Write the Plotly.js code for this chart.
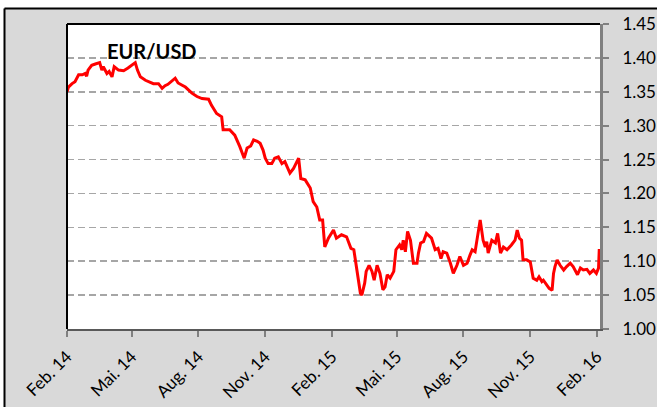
<!DOCTYPE html>
<html>
<head>
<meta charset="utf-8">
<script src="https://cdn.plot.ly/plotly-3.0.1.min.js"></script>
<style>
html,body{margin:0;padding:0;background:#fff;}
#chart{width:657px;height:407px;}
</style>
</head>
<body>
<div id="chart"></div>
<script>
const dates = [
"2014-02-01","2014-02-03","2014-02-08","2014-02-12","2014-02-17","2014-02-22","2014-02-26","2014-02-28",
"2014-03-02","2014-03-07","2014-03-12","2014-03-16","2014-03-18","2014-03-21","2014-03-23","2014-03-28","2014-03-31",
"2014-04-04","2014-04-07","2014-04-13","2014-04-20","2014-04-26","2014-05-01","2014-05-06","2014-05-09","2014-05-13",
"2014-05-20","2014-05-24","2014-05-31","2014-06-07","2014-06-12","2014-06-16","2014-06-20","2014-06-30",
"2014-07-04","2014-07-09","2014-07-14","2014-07-23","2014-07-30","2014-08-06","2014-08-15","2014-08-19","2014-08-26",
"2014-09-02","2014-09-04","2014-09-13","2014-09-20","2014-09-27","2014-10-03","2014-10-07","2014-10-12","2014-10-16",
"2014-10-21","2014-10-25","2014-10-29","2014-11-01","2014-11-05","2014-11-10","2014-11-14","2014-11-19","2014-11-24",
"2014-11-28","2014-12-05","2014-12-10","2014-12-17","2014-12-20","2014-12-26","2015-01-02","2015-01-06","2015-01-11",
"2015-01-15","2015-01-19","2015-01-22","2015-01-27","2015-02-03","2015-02-07","2015-02-14","2015-02-21","2015-02-27",
"2015-03-03","2015-03-07","2015-03-12","2015-03-14","2015-03-18","2015-03-20","2015-03-24","2015-03-28","2015-03-31",
"2015-04-04","2015-04-08","2015-04-12","2015-04-15","2015-04-18","2015-04-22","2015-04-27","2015-04-30","2015-05-05",
"2015-05-08","2015-05-10","2015-05-13","2015-05-16","2015-05-20","2015-05-24","2015-05-29","2015-05-31","2015-06-03",
"2015-06-07","2015-06-11","2015-06-18","2015-06-23","2015-06-27","2015-07-01","2015-07-04","2015-07-09","2015-07-14",
"2015-07-18","2015-07-23","2015-07-27","2015-08-01","2015-08-06","2015-08-10","2015-08-13","2015-08-17","2015-08-21",
"2015-08-24","2015-08-28","2015-08-31","2015-09-02","2015-09-04","2015-09-09","2015-09-14","2015-09-17","2015-09-21",
"2015-09-25","2015-09-30","2015-10-06","2015-10-11","2015-10-14","2015-10-17","2015-10-20","2015-10-22","2015-10-27",
"2015-11-01","2015-11-05","2015-11-10","2015-11-13","2015-11-17","2015-11-19","2015-11-23","2015-11-27","2015-12-01",
"2015-12-03","2015-12-05","2015-12-08","2015-12-12","2015-12-17","2015-12-21","2015-12-26","2015-12-30","2016-01-05",
"2016-01-09","2016-01-13","2016-01-18","2016-01-22","2016-01-27","2016-01-31","2016-02-03","2016-02-04"
];
const eurusd = [
1.350,1.357,1.362,1.365,1.375,1.375,1.377,1.373,
1.382,1.389,1.391,1.393,1.393,1.382,1.387,1.377,1.380,
1.372,1.387,1.382,1.381,1.385,1.389,1.393,1.382,1.372,
1.367,1.365,1.362,1.362,1.355,1.359,1.361,1.370,
1.363,1.360,1.357,1.348,1.343,1.340,1.339,1.330,1.318,
1.313,1.294,1.294,1.286,1.269,1.252,1.267,1.270,1.279,
1.277,1.274,1.264,1.252,1.244,1.244,1.252,1.254,1.244,
1.247,1.230,1.237,1.252,1.222,1.220,1.208,1.188,1.180,
1.161,1.161,1.121,1.134,1.146,1.134,1.139,1.136,1.119,
1.117,1.085,1.053,1.050,1.068,1.085,1.094,1.085,1.072,
1.094,1.082,1.058,1.062,1.080,1.075,1.085,1.117,1.124,
1.117,1.131,1.114,1.144,1.131,1.097,1.097,1.112,1.127,
1.129,1.141,1.134,1.117,1.119,1.104,1.114,1.112,1.097,
1.082,1.094,1.107,1.094,1.097,1.109,1.117,1.114,1.139,
1.161,1.131,1.121,1.129,1.112,1.131,1.127,1.141,1.112,
1.121,1.117,1.124,1.131,1.146,1.134,1.131,1.102,1.102,
1.099,1.075,1.072,1.077,1.070,1.072,1.065,1.060,1.057,
1.082,1.092,1.102,1.094,1.087,1.092,1.097,1.092,1.080,
1.090,1.087,1.088,1.082,1.087,1.082,1.090,1.118
];
const tickDates = ["2014-02-01","2014-05-01","2014-08-01","2014-11-01","2015-02-01","2015-05-01","2015-08-01","2015-11-01","2016-02-01"];
const tickLabels = ["Feb. 14","Mai. 14","Aug. 14","Nov. 14","Feb. 15","Mai. 15","Aug. 15","Nov. 15","Feb. 16"];
const yTicks = [1.00,1.05,1.10,1.15,1.20,1.25,1.30,1.35,1.40,1.45];
const chartTitle = "EUR/USD";

const W = 657, H = 407;
const M = {l:67, r:57, t:24, b:78};
const pw = W - M.l - M.r, ph = H - M.t - M.b;
const fx = px => (px - M.l) / pw;
const fy = py => (H - M.b - py) / ph;

const font = {family:"Lato, 'Open Sans', sans-serif", size:17, color:"#000"};

const trace = {
  x: dates, y: eurusd, type:"scatter", mode:"lines",
  line:{color:"#ff0000", width:3}, hoverinfo:"skip"
};

const layout = {
  width:W, height:H,
  margin:{l:M.l, r:M.r, t:M.t, b:M.b, pad:0},
  paper_bgcolor:"#d9d9d9", plot_bgcolor:"#ffffff",
  showlegend:false,
  font:font,
  xaxis:{
    type:"date", range:["2014-02-01","2016-02-05"],
    tickmode:"array", tickvals:tickDates, ticktext:tickLabels,
    tickangle:-45, ticks:"outside", ticklen:6, tickwidth:2, tickcolor:"#808080",
    showline:true, linecolor:"#595959", linewidth:2,
    showgrid:false, zeroline:false, tickfont:font, ticklabelstandoff:3, fixedrange:true
  },
  yaxis:{
    side:"right", range:[1.0,1.45],
    tickmode:"array", tickvals:yTicks, tickformat:".2f",
    ticks:"outside", ticklen:6, tickwidth:2, tickcolor:"#808080",
    showline:true, linecolor:"#808080", linewidth:3,
    showgrid:true, gridcolor:"#a6a6a6", gridwidth:1.5, griddash:"7px,4px",
    zeroline:false, tickfont:font, ticklabelstandoff:10, fixedrange:true
  },
  shapes:[
    {type:"line", xref:"paper", yref:"paper", x0:0, x1:1, y0:1, y1:1, line:{color:"#000", width:2}, layer:"above"},
    {type:"line", xref:"paper", yref:"paper", x0:0, x1:0, y0:0, y1:1, line:{color:"#000", width:2}, layer:"above"},
    {type:"rect", xref:"paper", yref:"paper", x0:fx(-20), x1:fx(W+20), y0:fy(8), y1:fy(-20), fillcolor:"#fff", line:{width:0}, layer:"above"},
    {type:"rect", xref:"paper", yref:"paper", x0:fx(-20), x1:fx(4), y0:fy(H+20), y1:fy(-20), fillcolor:"#fff", line:{width:0}, layer:"above"},
    {type:"line", xref:"paper", yref:"paper", x0:fx(4.5), x1:fx(W+20), y0:fy(8.5), y1:fy(8.5), line:{color:"#000", width:2}, layer:"above"},
    {type:"line", xref:"paper", yref:"paper", x0:fx(4.5), x1:fx(4.5), y0:fy(H+20), y1:fy(8.5), line:{color:"#000", width:2}, layer:"above"}
  ],
  annotations:[
    {text:"<b>"+chartTitle+"</b>", xref:"paper", yref:"paper", x:fx(105), y:fy(50.5),
     xanchor:"left", yanchor:"middle", showarrow:false,
     font:{family:"Lato, 'Open Sans', sans-serif", size:20, color:"#000"}}
  ]
};

Plotly.newPlot("chart", [trace], layout, {staticPlot:true, displayModeBar:false});
</script>
</body>
</html>
